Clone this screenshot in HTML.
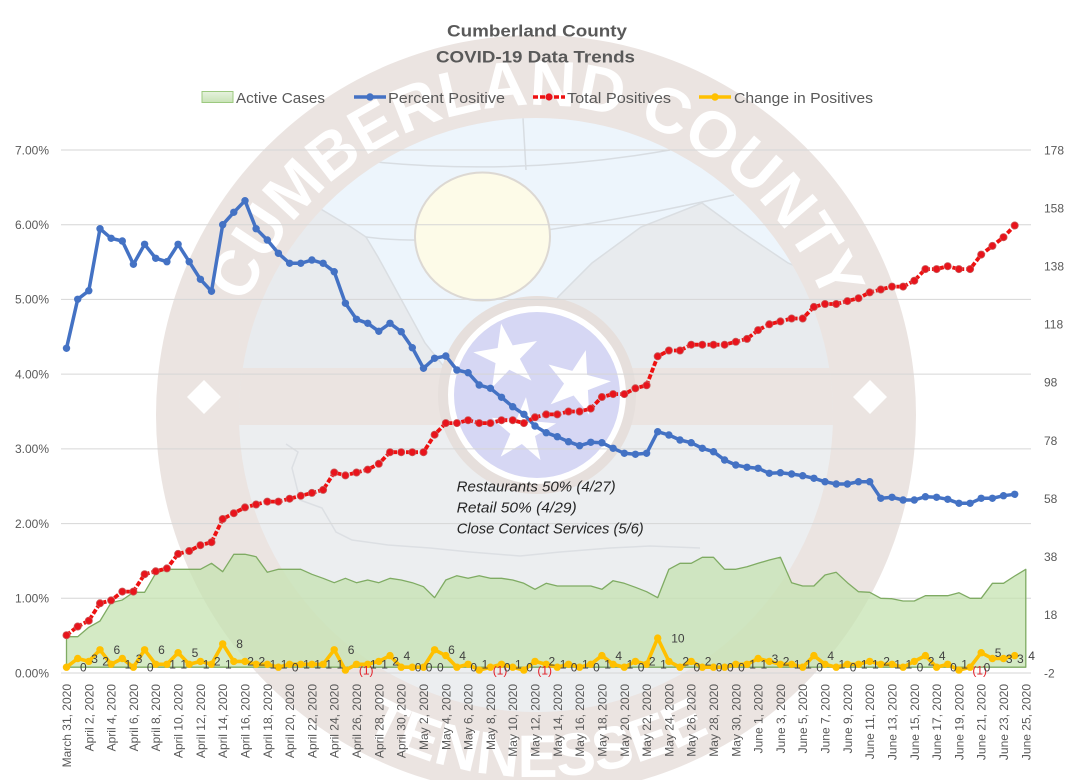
<!DOCTYPE html>
<html>
<head>
<meta charset="utf-8">
<style>
html,body{margin:0;padding:0;background:#fff;}
svg{display:block;}
</style>
</head>
<body>
<svg width="1074" height="780" viewBox="0 0 1074 780" xmlns="http://www.w3.org/2000/svg" xmlns:xlink="http://www.w3.org/1999/xlink" font-family="'Liberation Sans', Arial, sans-serif">
<defs>
  <clipPath id="inner"><circle cx="536" cy="415" r="297"/></clipPath>
  <path id="topArc" d="M236.6,334.8 A310,310 0 0,1 835.4,334.8"/>
  <path id="botArc" d="M229,606.8 A362,362 0 0,0 843,606.8"/>
  <linearGradient id="legG" x1="0" y1="0" x2="0" y2="1">
    <stop offset="0" stop-color="#e6f2de"/>
    <stop offset="1" stop-color="#c8e3b6"/>
  </linearGradient>
  <marker id="mB" markerUnits="userSpaceOnUse" markerWidth="10" markerHeight="10" refX="5" refY="5"><circle cx="5" cy="5" r="3.7" fill="#4472c4"/></marker>
  <marker id="mR" markerUnits="userSpaceOnUse" markerWidth="10" markerHeight="10" refX="5" refY="5"><circle cx="5" cy="5" r="3.6" fill="#e8141c" stroke="#c85a5a" stroke-width="0.8"/></marker>
  <marker id="mY" markerUnits="userSpaceOnUse" markerWidth="10" markerHeight="10" refX="5" refY="5"><circle cx="5" cy="5" r="3.7" fill="#ffc000"/></marker>
</defs>

<!-- ===== Seal watermark ===== -->
<circle cx="536" cy="415" r="380" fill="#ebe4e1"/>
<g clip-path="url(#inner)">
  <rect x="230" y="110" width="620" height="620" fill="#e8ebee"/>
  <polygon points="200,100 900,100 900,285 800,268 788,263 739,230 702,203 641,227 592,263 558,297 540,330 445,368 425,343 378,257 366,237 351,227 319,208 200,270" fill="#edf5fc" stroke="#dadee2" stroke-width="1.5"/>
  <path d="M376,162 Q523,176 670,150" fill="none" stroke="#d8dde2" stroke-width="1.5"/>
  <path d="M366,237 Q480,252 734,195" fill="none" stroke="#d8dde2" stroke-width="1.5"/>
  <path d="M523,118 L526,170" fill="none" stroke="#d8dde2" stroke-width="1.5"/>
  <rect x="230" y="425" width="620" height="300" fill="#eceef0"/>
  <rect x="230" y="368" width="620" height="57" fill="#ebe4e1"/>
  <polyline points="286,444 298,452 292,468 300,500 322,508 336,532 352,540 388,545 430,548 470,552 520,556 560,552 610,548 650,546 700,548" fill="none" stroke="#dcdfe3" stroke-width="1.5"/>
</g>
<!-- sun -->
<ellipse cx="482.5" cy="236.5" rx="67.5" ry="64" fill="#fdfbe8" stroke="#dcd8d3" stroke-width="2"/>
<!-- tristar -->
<circle cx="537" cy="395" r="99" fill="#e6dfdc"/>
<circle cx="537" cy="395" r="89" fill="#ffffff"/>
<circle cx="537" cy="395" r="83" fill="#d6d7f4"/>
<g fill="#ffffff">
  <path transform="translate(507,357) rotate(-10)" d="M0,-34 L7.64,-10.52 L32.34,-10.51 L12.36,4.02 L19.98,27.51 L0,13 L-19.98,27.51 L-12.36,4.02 L-32.34,-10.51 L-7.64,-10.52 Z"/>
  <path transform="translate(577,383) rotate(15)" d="M0,-34 L7.64,-10.52 L32.34,-10.51 L12.36,4.02 L19.98,27.51 L0,13 L-19.98,27.51 L-12.36,4.02 L-32.34,-10.51 L-7.64,-10.52 Z"/>
  <path transform="translate(523,431) rotate(5)" d="M0,-34 L7.64,-10.52 L32.34,-10.51 L12.36,4.02 L19.98,27.51 L0,13 L-19.98,27.51 L-12.36,4.02 L-32.34,-10.51 L-7.64,-10.52 Z"/>
</g>
<!-- diamonds -->
<polygon points="204,380 221,397 204,414 187,397" fill="#ffffff"/>
<polygon points="870,380 887,397 870,414 853,397" fill="#ffffff"/>
<!-- ring lettering -->
<text font-size="64" font-weight="bold" fill="#ffffff"><textPath href="#topArc" xlink:href="#topArc" startOffset="50%" text-anchor="middle">CUMBERLAND COUNTY</textPath></text>
<text font-size="60" font-weight="bold" fill="#ffffff"><textPath href="#botArc" xlink:href="#botArc" startOffset="50%" text-anchor="middle">TENNESSEE</textPath></text>

<!-- ===== Title & legend ===== -->
<g fill="#595959" font-weight="bold" font-size="17" text-anchor="middle">
  <text x="537" y="36.5" textLength="180" lengthAdjust="spacingAndGlyphs">Cumberland County</text>
  <text x="535.5" y="62.5" textLength="199" lengthAdjust="spacingAndGlyphs">COVID-19 Data Trends</text>
</g>
<g font-size="15" fill="#595959">
  <rect x="202" y="91.5" width="31" height="11" fill="url(#legG)" stroke="#9cc97f" stroke-width="1"/>
  <text x="236" y="103" textLength="89" lengthAdjust="spacingAndGlyphs">Active Cases</text>
  <line x1="354" y1="97" x2="386" y2="97" stroke="#4472c4" stroke-width="3.5"/>
  <circle cx="370" cy="97" r="3.7" fill="#4472c4"/>
  <text x="388" y="103" textLength="117" lengthAdjust="spacingAndGlyphs">Percent Positive</text>
  <line x1="533" y1="97" x2="565" y2="97" stroke="#ee1111" stroke-width="3.5" stroke-dasharray="5 2"/>
  <circle cx="549" cy="97" r="3.6" fill="#e8141c"/>
  <text x="567" y="103" textLength="104" lengthAdjust="spacingAndGlyphs">Total Positives</text>
  <line x1="699" y1="97" x2="731" y2="97" stroke="#ffc000" stroke-width="3.5"/>
  <circle cx="715" cy="97" r="3.7" fill="#ffc000"/>
  <text x="734" y="103" textLength="139" lengthAdjust="spacingAndGlyphs">Change in Positives</text>
</g>

<!-- ===== Gridlines ===== -->
<g stroke="#d6d6d6" stroke-width="1">
  <line x1="61" y1="150" x2="1031" y2="150"/>
  <line x1="61" y1="224.7" x2="1031" y2="224.7"/>
  <line x1="61" y1="299.4" x2="1031" y2="299.4"/>
  <line x1="61" y1="374.1" x2="1031" y2="374.1"/>
  <line x1="61" y1="448.9" x2="1031" y2="448.9"/>
  <line x1="61" y1="523.6" x2="1031" y2="523.6"/>
  <line x1="61" y1="598.3" x2="1031" y2="598.3"/>
  <line x1="61" y1="673" x2="1031" y2="673"/>
</g>

<!-- Axis labels -->
<g font-size="12" fill="#595959" text-anchor="end">
  <text x="49" y="154.3">7.00%</text>
  <text x="49" y="229">6.00%</text>
  <text x="49" y="303.7">5.00%</text>
  <text x="49" y="378.4">4.00%</text>
  <text x="49" y="453.2">3.00%</text>
  <text x="49" y="527.9">2.00%</text>
  <text x="49" y="602.6">1.00%</text>
  <text x="49" y="677.3">0.00%</text>
</g>
<g font-size="12" fill="#595959">
  <text x="1044" y="154.3">178</text>
  <text x="1044" y="212.4">158</text>
  <text x="1044" y="270.5">138</text>
  <text x="1044" y="328.6">118</text>
  <text x="1044" y="386.7">98</text>
  <text x="1044" y="444.9">78</text>
  <text x="1044" y="503">58</text>
  <text x="1044" y="561.1">38</text>
  <text x="1044" y="619.2">18</text>
  <text x="1044" y="677.3">-2</text>
</g>

<!-- ===== Active cases area ===== -->
<polygon points="66.5,667.2 66.5,636.7 77.7,636.7 88.8,627.3 100,621 111.1,602.7 122.3,600 133.4,592.3 144.6,592.3 155.7,573.3 166.9,569.3 178.1,569.3 189.2,569.3 200.4,569.3 211.5,563.3 222.7,571.7 233.8,554.3 245,554.3 256.1,556.7 267.3,572.3 278.4,569.3 289.6,569.3 300.8,569.3 311.9,574.3 323.1,578.3 334.2,582.7 345.4,578.3 356.5,582.7 367.7,580 378.8,582.7 390,578.3 401.2,580 412.3,582.7 423.5,586.7 434.6,597.7 445.8,580 456.9,575.7 468.1,578.3 479.2,575.7 490.4,578.3 501.5,578.3 512.7,580 523.9,583.3 535,589.3 546.2,583.3 557.3,586 568.5,586 579.6,586 590.8,586 601.9,589.3 613.1,580.7 624.3,583.3 635.4,587.3 646.6,591.7 657.7,597.7 668.9,569.3 680,563.3 691.2,563.3 702.3,557.3 713.5,557.3 724.6,569.3 735.8,569.3 747,566.7 758.1,563.3 769.3,560 780.4,557.3 791.6,582.7 802.7,586 813.9,586 825,575 836.2,572.3 847.4,582.7 858.5,591.7 869.7,592.3 880.8,598.3 892,598.7 903.1,601 914.3,601 925.4,595.7 936.6,595.7 947.7,595.7 958.9,592.7 970.1,598.3 981.2,598.3 992.4,583.3 1003.5,583.3 1014.7,576 1025.8,569.3 1025.8,667.2" fill="#c3e2ae" fill-opacity="0.72" stroke="#7fab63" stroke-width="1.3" stroke-linejoin="round"/>

<!-- ===== Percent Positive ===== -->
<polyline points="66.5,348.3 77.7,299.3 88.8,290.7 100,228.7 111.1,238.3 122.3,241 133.4,264.3 144.6,244.3 155.7,258.3 166.9,261.7 178.1,244.3 189.2,261.7 200.4,279.3 211.5,291.3 222.7,224.7 233.8,212.3 245,200.7 256.1,228.7 267.3,240 278.4,253.3 289.6,263.3 300.8,263.3 311.9,260 323.1,263.3 334.2,271.7 345.4,303.3 356.5,319.3 367.7,323.3 378.8,331.3 390,323.3 401.2,331.7 412.3,347.7 423.5,368.3 434.6,358.3 445.8,356 456.9,370 468.1,372.7 479.2,385 490.4,388.3 501.5,397.3 512.7,406.7 523.9,414.3 535,426 546.2,432.7 557.3,436.7 568.5,441.7 579.6,445.7 590.8,442.3 601.9,442.7 613.1,448.3 624.3,453.3 635.4,454.3 646.6,453.3 657.7,431.7 668.9,435 680,440 691.2,442.7 702.3,448.3 713.5,451.7 724.6,460 735.8,465 747,467.3 758.1,468.3 769.3,473.3 780.4,472.7 791.6,474 802.7,475.7 813.9,478.3 825,481.7 836.2,484 847.4,484 858.5,481.7 869.7,481.7 880.8,498.3 892,497.3 903.1,500 914.3,500 925.4,496.7 936.6,497.3 947.7,499.3 958.9,503.3 970.1,503.3 981.2,498.3 992.4,498.3 1003.5,495.7 1014.7,494.3" fill="none" stroke="#4472c4" stroke-width="3.5" stroke-linejoin="round" stroke-linecap="round" marker-start="url(#mB)" marker-mid="url(#mB)" marker-end="url(#mB)"/>

<!-- ===== Total Positives ===== -->
<polyline points="66.5,635.2 77.7,626.5 88.8,620.7 100,603.3 111.1,600.4 122.3,591.6 133.4,591.6 144.6,574.2 155.7,571.3 166.9,568.4 178.1,553.9 189.2,551 200.4,545.2 211.5,542.2 222.7,519 233.8,513.2 245,507.4 256.1,504.5 267.3,501.6 278.4,501.6 289.6,498.7 300.8,495.8 311.9,492.9 323.1,489.9 334.2,472.5 345.4,475.4 356.5,472.5 367.7,469.6 378.8,463.8 390,452.2 401.2,452.2 412.3,452.2 423.5,452.2 434.6,434.7 445.8,423.1 456.9,423.1 468.1,420.2 479.2,423.1 490.4,423.1 501.5,420.2 512.7,420.2 523.9,423.1 535,417.3 546.2,414.4 557.3,414.4 568.5,411.5 579.6,411.5 590.8,408.6 601.9,397 613.1,394.1 624.3,394.1 635.4,388.3 646.6,385.3 657.7,356.3 668.9,350.5 680,350.5 691.2,344.7 702.3,344.7 713.5,344.7 724.6,344.7 735.8,341.8 747,338.9 758.1,330.1 769.3,324.3 780.4,321.4 791.6,318.5 802.7,318.5 813.9,306.9 825,304 836.2,304 847.4,301.1 858.5,298.2 869.7,292.4 880.8,289.5 892,286.6 903.1,286.6 914.3,280.7 925.4,269.1 936.6,269.1 947.7,266.2 958.9,269.1 970.1,269.1 981.2,254.6 992.4,245.9 1003.5,237.2 1014.7,225.5" fill="none" stroke="#ee1111" stroke-width="3.8" stroke-dasharray="5 2" stroke-linejoin="round" marker-start="url(#mR)" marker-mid="url(#mR)" marker-end="url(#mR)"/>

<!-- ===== Change in Positives ===== -->
<polyline points="66.5,667.2 77.7,658.5 88.8,661.4 100,649.8 111.1,664.3 122.3,658.5 133.4,667.2 144.6,649.8 155.7,664.3 166.9,664.3 178.1,652.7 189.2,664.3 200.4,661.4 211.5,664.3 222.7,643.9 233.8,661.4 245,661.4 256.1,664.3 267.3,664.3 278.4,667.2 289.6,664.3 300.8,664.3 311.9,664.3 323.1,664.3 334.2,649.8 345.4,670.1 356.5,664.3 367.7,664.3 378.8,661.4 390,655.6 401.2,667.2 412.3,667.2 423.5,667.2 434.6,649.8 445.8,655.6 456.9,667.2 468.1,664.3 479.2,670.1 490.4,667.2 501.5,664.3 512.7,667.2 523.9,670.1 535,661.4 546.2,664.3 557.3,667.2 568.5,664.3 579.6,667.2 590.8,664.3 601.9,655.6 613.1,664.3 624.3,667.2 635.4,661.4 646.6,664.3 657.7,638.1 668.9,661.4 680,667.2 691.2,661.4 702.3,667.2 713.5,667.2 724.6,667.2 735.8,664.3 747,664.3 758.1,658.5 769.3,661.4 780.4,664.3 791.6,664.3 802.7,667.2 813.9,655.6 825,664.3 836.2,667.2 847.4,664.3 858.5,664.3 869.7,661.4 880.8,664.3 892,664.3 903.1,667.2 914.3,661.4 925.4,655.6 936.6,667.2 947.7,664.3 958.9,670.1 970.1,667.2 981.2,652.7 992.4,658.5 1003.5,658.5 1014.7,655.6" fill="none" stroke="#ffc000" stroke-width="3.6" stroke-linejoin="round" stroke-linecap="round" marker-start="url(#mY)" marker-mid="url(#mY)" marker-end="url(#mY)"/>

<!-- data labels -->
<g font-size="12" fill="#404040">
<text x="80" y="671.5">0</text>
<text x="91.2" y="662.8">3</text>
<text x="102.3" y="665.7">2</text>
<text x="113.5" y="654.1">6</text>
<text x="124.6" y="668.6">1</text>
<text x="135.8" y="662.8">3</text>
<text x="146.9" y="671.5">0</text>
<text x="158.1" y="654.1">6</text>
<text x="169.2" y="668.6">1</text>
<text x="180.4" y="668.6">1</text>
<text x="191.6" y="657">5</text>
<text x="202.7" y="668.6">1</text>
<text x="213.9" y="665.7">2</text>
<text x="225" y="668.6">1</text>
<text x="236.2" y="648.2">8</text>
<text x="247.3" y="665.7">2</text>
<text x="258.5" y="665.7">2</text>
<text x="269.6" y="668.6">1</text>
<text x="280.8" y="668.6">1</text>
<text x="291.9" y="671.5">0</text>
<text x="303.1" y="668.6">1</text>
<text x="314.3" y="668.6">1</text>
<text x="325.4" y="668.6">1</text>
<text x="336.6" y="668.6">1</text>
<text x="347.7" y="654.1">6</text>
<text x="358.9" y="674.4" fill="#e3202a">(1)</text>
<text x="370" y="668.6">1</text>
<text x="381.2" y="668.6">1</text>
<text x="392.3" y="665.7">2</text>
<text x="403.5" y="659.9">4</text>
<text x="414.7" y="671.5">0</text>
<text x="425.8" y="671.5">0</text>
<text x="437" y="671.5">0</text>
<text x="448.1" y="654.1">6</text>
<text x="459.3" y="659.9">4</text>
<text x="470.4" y="671.5">0</text>
<text x="481.6" y="668.6">1</text>
<text x="492.7" y="674.4" fill="#e3202a">(1)</text>
<text x="503.9" y="671.5">0</text>
<text x="515" y="668.6">1</text>
<text x="526.2" y="671.5">0</text>
<text x="537.4" y="674.4" fill="#e3202a">(1)</text>
<text x="548.5" y="665.7">2</text>
<text x="559.7" y="668.6">1</text>
<text x="570.8" y="671.5">0</text>
<text x="582" y="668.6">1</text>
<text x="593.1" y="671.5">0</text>
<text x="604.3" y="668.6">1</text>
<text x="615.4" y="659.9">4</text>
<text x="626.6" y="668.6">1</text>
<text x="637.8" y="671.5">0</text>
<text x="648.9" y="665.7">2</text>
<text x="660.1" y="668.6">1</text>
<text x="671.2" y="642.4">10</text>
<text x="682.4" y="665.7">2</text>
<text x="693.5" y="671.5">0</text>
<text x="704.7" y="665.7">2</text>
<text x="715.8" y="671.5">0</text>
<text x="727" y="671.5">0</text>
<text x="738.1" y="671.5">0</text>
<text x="749.3" y="668.6">1</text>
<text x="760.5" y="668.6">1</text>
<text x="771.6" y="662.8">3</text>
<text x="782.8" y="665.7">2</text>
<text x="793.9" y="668.6">1</text>
<text x="805.1" y="668.6">1</text>
<text x="816.2" y="671.5">0</text>
<text x="827.4" y="659.9">4</text>
<text x="838.5" y="668.6">1</text>
<text x="849.7" y="671.5">0</text>
<text x="860.9" y="668.6">1</text>
<text x="872" y="668.6">1</text>
<text x="883.2" y="665.7">2</text>
<text x="894.3" y="668.6">1</text>
<text x="905.5" y="668.6">1</text>
<text x="916.6" y="671.5">0</text>
<text x="927.8" y="665.7">2</text>
<text x="938.9" y="659.9">4</text>
<text x="950.1" y="671.5">0</text>
<text x="961.2" y="668.6">1</text>
<text x="972.4" y="674.4" fill="#e3202a">(1)</text>
<text x="983.6" y="671.5">0</text>
<text x="994.7" y="657">5</text>
<text x="1005.9" y="662.8">3</text>
<text x="1017" y="662.8">3</text>
<text x="1028.2" y="659.9">4</text>
</g>

<!-- annotation -->
<g font-size="15" font-style="italic" fill="#262626">
  <text x="456.7" y="491.7" textLength="159" lengthAdjust="spacingAndGlyphs">Restaurants 50% (4/27)</text>
  <text x="456.7" y="512.7" textLength="120" lengthAdjust="spacingAndGlyphs">Retail 50% (4/29)</text>
  <text x="456.7" y="533.3" textLength="187" lengthAdjust="spacingAndGlyphs">Close Contact Services (5/6)</text>
</g>

<!-- x-axis labels -->
<g font-size="12" fill="#595959" text-anchor="end">
<text transform="translate(71,684) rotate(-90)">March 31, 2020</text>
<text transform="translate(93.3,684) rotate(-90)">April 2, 2020</text>
<text transform="translate(115.6,684) rotate(-90)">April 4, 2020</text>
<text transform="translate(137.9,684) rotate(-90)">April 6, 2020</text>
<text transform="translate(160.2,684) rotate(-90)">April 8, 2020</text>
<text transform="translate(182.6,684) rotate(-90)">April 10, 2020</text>
<text transform="translate(204.9,684) rotate(-90)">April 12, 2020</text>
<text transform="translate(227.2,684) rotate(-90)">April 14, 2020</text>
<text transform="translate(249.5,684) rotate(-90)">April 16, 2020</text>
<text transform="translate(271.8,684) rotate(-90)">April 18, 2020</text>
<text transform="translate(294.1,684) rotate(-90)">April 20, 2020</text>
<text transform="translate(316.4,684) rotate(-90)">April 22, 2020</text>
<text transform="translate(338.7,684) rotate(-90)">April 24, 2020</text>
<text transform="translate(361,684) rotate(-90)">April 26, 2020</text>
<text transform="translate(383.3,684) rotate(-90)">April 28, 2020</text>
<text transform="translate(405.7,684) rotate(-90)">April 30, 2020</text>
<text transform="translate(428,684) rotate(-90)">May 2, 2020</text>
<text transform="translate(450.3,684) rotate(-90)">May 4, 2020</text>
<text transform="translate(472.6,684) rotate(-90)">May 6, 2020</text>
<text transform="translate(494.9,684) rotate(-90)">May 8, 2020</text>
<text transform="translate(517.2,684) rotate(-90)">May 10, 2020</text>
<text transform="translate(539.5,684) rotate(-90)">May 12, 2020</text>
<text transform="translate(561.8,684) rotate(-90)">May 14, 2020</text>
<text transform="translate(584.1,684) rotate(-90)">May 16, 2020</text>
<text transform="translate(606.4,684) rotate(-90)">May 18, 2020</text>
<text transform="translate(628.8,684) rotate(-90)">May 20, 2020</text>
<text transform="translate(651.1,684) rotate(-90)">May 22, 2020</text>
<text transform="translate(673.4,684) rotate(-90)">May 24, 2020</text>
<text transform="translate(695.7,684) rotate(-90)">May 26, 2020</text>
<text transform="translate(718,684) rotate(-90)">May 28, 2020</text>
<text transform="translate(740.3,684) rotate(-90)">May 30, 2020</text>
<text transform="translate(762.6,684) rotate(-90)">June 1, 2020</text>
<text transform="translate(784.9,684) rotate(-90)">June 3, 2020</text>
<text transform="translate(807.2,684) rotate(-90)">June 5, 2020</text>
<text transform="translate(829.5,684) rotate(-90)">June 7, 2020</text>
<text transform="translate(851.9,684) rotate(-90)">June 9, 2020</text>
<text transform="translate(874.2,684) rotate(-90)">June 11, 2020</text>
<text transform="translate(896.5,684) rotate(-90)">June 13, 2020</text>
<text transform="translate(918.8,684) rotate(-90)">June 15, 2020</text>
<text transform="translate(941.1,684) rotate(-90)">June 17, 2020</text>
<text transform="translate(963.4,684) rotate(-90)">June 19, 2020</text>
<text transform="translate(985.7,684) rotate(-90)">June 21, 2020</text>
<text transform="translate(1008,684) rotate(-90)">June 23, 2020</text>
<text transform="translate(1030.3,684) rotate(-90)">June 25, 2020</text>
</g>
</svg>
</body>
</html>
